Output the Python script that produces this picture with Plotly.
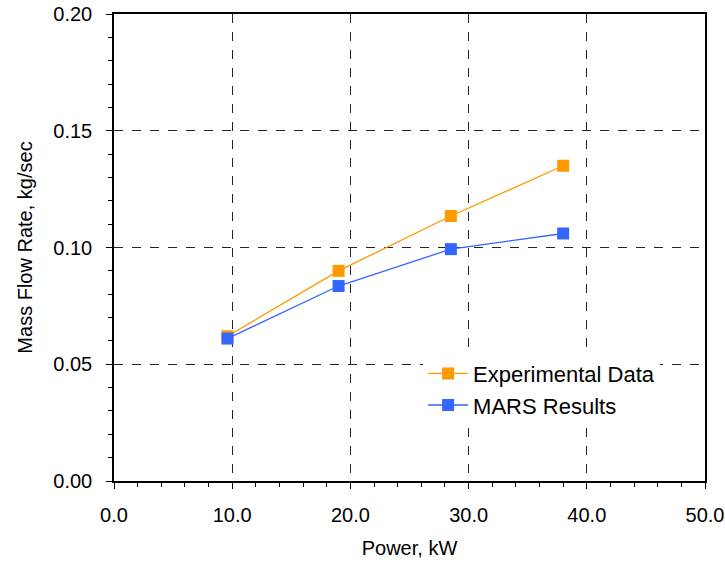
import plotly.graph_objects as go

power_exp = [9.6, 19.0, 28.5, 38.0]
flow_exp = [0.062, 0.090, 0.1135, 0.135]
power_mars = [9.6, 19.0, 28.5, 38.0]
flow_mars = [0.061, 0.0835, 0.0993, 0.106]

FONT = "Arial, Liberation Sans"

fig = go.Figure()
fig.add_trace(go.Scatter(x=power_exp, y=flow_exp, mode="lines+markers", name="Experimental Data",
                         line=dict(color="#FF9900", width=1.3),
                         marker=dict(symbol="square", size=12, color="#FF9900")))
fig.add_trace(go.Scatter(x=power_mars, y=flow_mars, mode="lines+markers", name="MARS Results",
                         line=dict(color="#3366FF", width=1.3),
                         marker=dict(symbol="square", size=12, color="#3366FF")))

axis_common = dict(showline=True, linecolor="black", linewidth=1.5, mirror=True,
                   showgrid=True, gridcolor="#222222", griddash="dash", gridwidth=1,
                   zeroline=False, ticks="outside", ticklen=6, tickcolor="black",
                   automargin=False,
                   tickfont=dict(family=FONT, size=20, color="black"))

fig.update_xaxes(range=[0, 50], dtick=10, tickformat=".1f", ticklabelstandoff=9,
                 minor=dict(dtick=2, ticks="outside", ticklen=4, tickcolor="black", showgrid=False),
                 title=dict(text="Power, kW", font=dict(family=FONT, size=20, color="black"),
                            standoff=16),
                 **axis_common)
fig.update_yaxes(range=[0, 0.2], dtick=0.05, tickformat=".2f", ticklabelstandoff=10,
                 minor=dict(dtick=0.01, ticks="outside", ticklen=4, tickcolor="black", showgrid=False),
                 title=dict(text="Mass Flow Rate, kg/sec", font=dict(family=FONT, size=20, color="black"),
                            standoff=15),
                 **axis_common)

fig.update_layout(width=725, height=565, plot_bgcolor="white", paper_bgcolor="white",
                  margin=dict(l=114, r=20, t=14, b=84),
                  legend=dict(x=0.523, y=0.275, xanchor="left", yanchor="top", bgcolor="white",
                              font=dict(family=FONT, size=22, color="black"),
                              itemwidth=40))

fig.write_html("out.html")
